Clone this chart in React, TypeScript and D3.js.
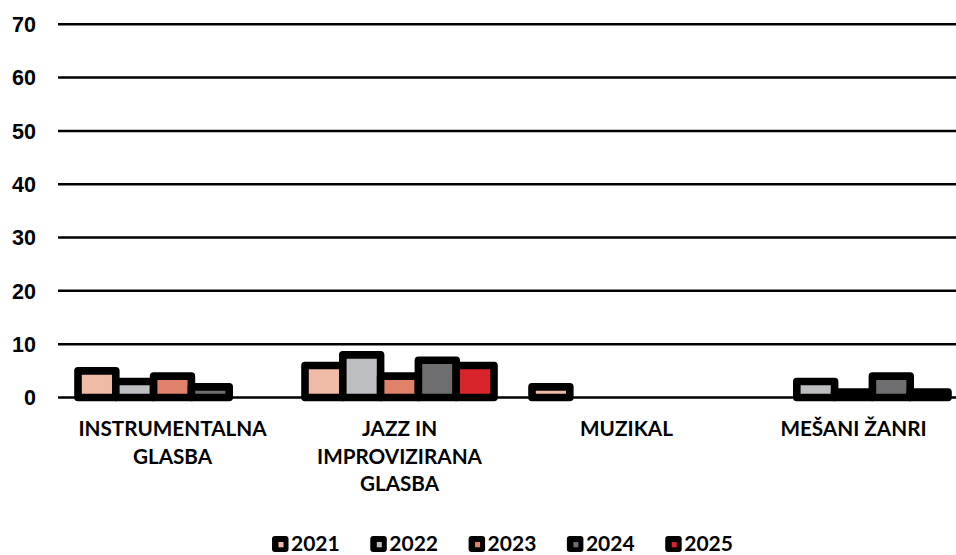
import * as d3 from 'd3';
import { useEffect, useRef } from 'react';

const categories = ['INSTRUMENTALNA GLASBA', 'JAZZ IN IMPROVIZIRANA GLASBA', 'MUZIKAL', 'MEŠANI ŽANRI'];
const years = ['2021', '2022', '2023', '2024', '2025'];
const values2021 = [5, 6, 2, 0];
const values2022 = [3, 8, 0, 3];
const values2023 = [4, 4, 0, 1];
const values2024 = [2, 7, 0, 4];
const values2025 = [0, 6, 0, 1];
const yTicks = [0, 10, 20, 30, 40, 50, 60, 70];
const yearColors = ['#F0BBA6', '#BDBEC2', '#E0826A', '#6E6E70', '#D9242B'];

const series = [values2021, values2022, values2023, values2024, values2025];

const App = () => {
  const svgRef = useRef<SVGSVGElement>(null);

  useEffect(() => {
    const width = 956;
    const height = 555;
    const plotLeft = 59;
    const plotRight = 967;
    const yTop = 24.3;
    const yZero = 397.5;

    const svg = d3.select(svgRef.current);
    svg.selectAll('*').remove();

    const yScale = d3.scaleLinear([0, 70], [yZero, yTop]);
    const x0 = d3
      .scaleBand(categories, [plotLeft, plotRight])
      .paddingInner(0.1674)
      .paddingOuter(0.0837);
    const x1 = d3.scaleBand(years, [0, x0.bandwidth()]);

    // gridlines
    svg
      .append('g')
      .selectAll('line')
      .data(yTicks)
      .join('line')
      .attr('x1', 58)
      .attr('x2', width)
      .attr('y1', (d) => yScale(d))
      .attr('y2', (d) => yScale(d))
      .attr('stroke', '#000')
      .attr('stroke-width', 2.5);

    // y labels
    svg
      .append('g')
      .selectAll('text')
      .data(yTicks)
      .join('text')
      .attr('x', 36)
      .attr('y', (d) => yScale(d))
      .attr('dy', '0.36em')
      .attr('text-anchor', 'end')
      .attr('font-family', '"Liberation Sans", Arial, sans-serif')
      .attr('font-weight', 700)
      .attr('font-size', 21.5)
      .attr('fill', '#000')
      .text((d) => d);

    // bars (zero values are not drawn)
    const rows = [];
    categories.forEach((c, ci) => {
      years.forEach((y, yi) => {
        const v = series[yi][ci];
        if (v > 0) rows.push({ c, y, v, color: yearColors[yi] });
      });
    });
    svg
      .append('g')
      .selectAll('rect')
      .data(rows)
      .join('rect')
      .attr('x', (d) => x0(d.c) + x1(d.y))
      .attr('y', (d) => yScale(d.v))
      .attr('width', x1.bandwidth())
      .attr('height', (d) => yScale(0) - yScale(d.v))
      .attr('fill', (d) => d.color)
      .attr('stroke', '#000')
      .attr('stroke-width', 7.6)
      .attr('stroke-linejoin', 'round');

    // category labels, wrapped to the band width
    const labelG = svg.append('g');
    categories.forEach((c) => {
      const t = labelG
        .append('text')
        .attr('text-anchor', 'middle')
        .attr('font-family', 'Lato, sans-serif')
        .attr('font-weight', 700)
        .attr('font-size', 20.7)
        .attr('fill', '#000');
      const cx = x0(c) + x0.bandwidth() / 2;
      const words = c.split(' ');
      let lines = [];
      let cur = '';
      const probe = t.append('tspan');
      words.forEach((w) => {
        const test = cur ? cur + ' ' + w : w;
        probe.text(test);
        if (cur && probe.node().getComputedTextLength() > x0.bandwidth() + 4) {
          lines.push(cur);
          cur = w;
        } else {
          cur = test;
        }
      });
      lines.push(cur);
      probe.remove();
      lines.forEach((ln, i) => {
        t.append('tspan')
          .attr('x', cx)
          .attr('y', 436 + i * 27.6)
          .text(ln);
      });
    });

    // legend
    const legend = svg
      .append('g')
      .selectAll('g')
      .data(years)
      .join('g')
      .attr('transform', (d, i) => `translate(${272 + i * 98.3}, 0)`);
    legend
      .append('rect')
      .attr('x', 0)
      .attr('y', 536)
      .attr('width', 16.5)
      .attr('height', 16)
      .attr('rx', 3)
      .attr('fill', '#000');
    legend
      .append('rect')
      .attr('x', 6.5)
      .attr('y', 542)
      .attr('width', 5)
      .attr('height', 5.3)
      .attr('fill', (d, i) => yearColors[i]);
    legend
      .append('text')
      .attr('x', 19)
      .attr('y', 551)
      .attr('font-family', 'Lato, sans-serif')
      .attr('font-weight', 700)
      .attr('font-size', 21)
      .attr('fill', '#000')
      .text((d) => d);

    svg.attr('width', width).attr('height', height);
  }, []);

  return (
    <svg
      ref={svgRef}
      width={956}
      height={555}
      style={{ position: 'absolute', left: 0, top: 0, background: '#fff' }}
    />
  );
};

export default App;
